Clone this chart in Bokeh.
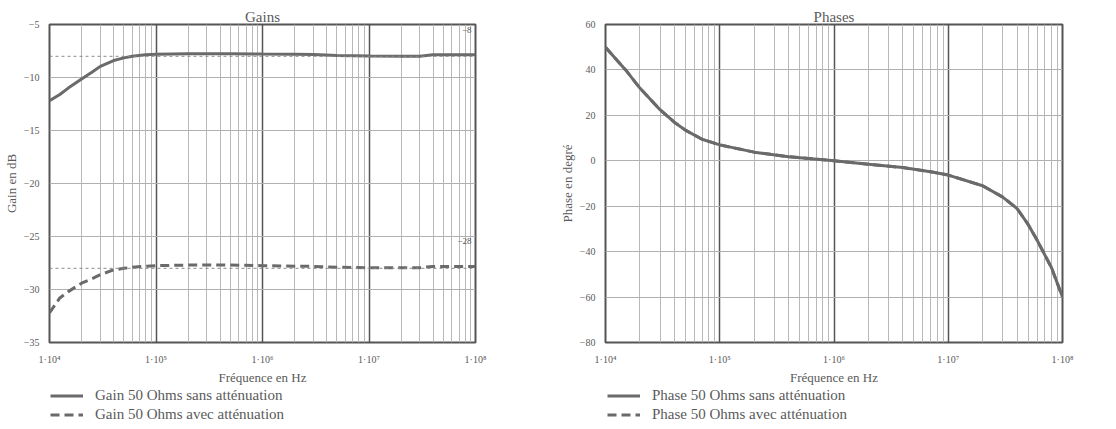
from bokeh.plotting import figure
from bokeh.layouts import row, column
from bokeh.models import Range1d, FixedTicker, Legend, LegendItem, Label, Span
from bokeh.embed import file_html
from bokeh.resources import INLINE

# ---------------- data ----------------
freq_gain = [1e4, 1.25e4, 1.5e4, 2e4, 2.5e4, 3e4, 4e4, 5e4, 6e4, 8e4, 1e5, 2e5, 5e5,
             1e6, 2e6, 3e6, 5e6, 1e7, 2e7, 3e7, 4e7, 1e8]
gain_sans = [-12.2, -11.6, -11.0, -10.15, -9.5, -8.95, -8.4, -8.15, -8.0, -7.85, -7.8, -7.75, -7.75,
             -7.78, -7.8, -7.82, -7.92, -7.98, -8.0, -8.0, -7.85, -7.85]
gain_avec = [-32.2, -30.8, -30.2, -29.4, -29.0, -28.6, -28.15, -28.0, -27.9, -27.8, -27.75, -27.7, -27.7,
             -27.75, -27.8, -27.82, -27.9, -27.95, -27.95, -27.95, -27.82, -27.82]

freq_phase = [1e4, 1.5e4, 2e4, 3e4, 4e4, 5e4, 7e4, 1e5, 2e5, 4e5, 1e6, 2e6, 4e6, 7e6,
              1e7, 2e7, 3e7, 4e7, 5e7, 6e7, 8e7, 1e8]
phase_sans = [50, 40, 32, 22.5, 17, 13.5, 9.5, 7, 3.8, 1.8, 0, -1.5, -3, -4.8,
              -6.3, -11, -16, -21, -28, -35, -47, -60]
phase_avec = [50, 40, 32, 22.5, 17, 13.5, 9.5, 7, 3.8, 1.8, 0, -1.5, -3, -4.8,
              -6.3, -11, -16, -21, -28, -35, -47, -60]

x_ticks = [1e4, 1e5, 1e6, 1e7, 1e8]
x_tick_labels = ["1·10⁴", "1·10⁵", "1·10⁶", "1·10⁷", "1·10⁸"]
gain_ticks = [-5, -10, -15, -20, -25, -30, -35]
gain_tick_labels = ["−5", "−10", "−15", "−20", "−25", "−30", "−35"]
phase_ticks = [60, 40, 20, 0, -20, -40, -60, -80]
phase_tick_labels = ["60", "40", "20", "0", "−20", "−40", "−60", "−80"]
gain_markers = [-8, -28]
gain_marker_labels = ["−8", "−28"]
gain_legend = ["Gain 50 Ohms sans atténuation", "Gain 50 Ohms avec atténuation"]
phase_legend = ["Phase 50 Ohms sans atténuation", "Phase 50 Ohms avec atténuation"]

FONT = "Liberation Serif"
TXT = "#5a5a5a"
LINE = "#6a6a6a"
DASH = "9 5"
minor_x = [m * d for d in [1e4, 1e5, 1e6, 1e7] for m in range(2, 10)]


def make_fig(title, ylabel, yr, yticks, ylabels, fw, bl, br):
    p = figure(x_axis_type="log", x_range=Range1d(1e4, 1e8), y_range=Range1d(*yr),
               frame_width=fw, frame_height=318, min_border_left=bl, min_border_right=br,
               min_border_top=24, min_border_bottom=36,
               output_backend="svg", toolbar_location=None, title=title)
    p.title.align = "center"
    p.title.text_font = FONT
    p.title.text_font_style = "normal"
    p.title.text_font_size = "15px"
    p.title.text_color = TXT
    p.title.standoff = 0
    p.outline_line_color = "#555555"
    p.outline_line_width = 2
    p.background_fill_color = "white"
    p.border_fill_color = "white"

    p.xaxis.ticker = FixedTicker(ticks=x_ticks, minor_ticks=minor_x)
    p.xaxis.major_label_overrides = {t: l for t, l in zip(x_ticks, x_tick_labels)}
    p.yaxis.ticker = FixedTicker(ticks=yticks)
    p.yaxis.major_label_overrides = {t: l for t, l in zip(yticks, ylabels)}
    for ax in (p.xaxis, p.yaxis):
        ax.axis_line_color = None
        ax.major_tick_line_color = None
        ax.minor_tick_line_color = None
        ax.major_label_text_font = FONT
        ax.major_label_text_font_size = "10px"
        ax.major_label_text_color = TXT
        ax.axis_label_text_font = FONT
        ax.axis_label_text_font_style = "normal"
        ax.axis_label_text_font_size = "13px"
        ax.axis_label_text_color = TXT
        ax.major_label_standoff = 4
        ax.axis_label_standoff = 2
    p.xaxis.major_label_standoff = 5
    p.xaxis.axis_label = "Fréquence en Hz"
    p.yaxis.axis_label = ylabel

    p.xgrid.grid_line_color = "#555555"
    p.xgrid.grid_line_width = 1.5
    p.xgrid.minor_grid_line_color = "#b8b8b8"
    p.xgrid.minor_grid_line_width = 1
    p.ygrid.grid_line_color = "#b0b0b0"
    p.ygrid.grid_line_width = 1
    return p


def legend_fig(labels, left, xs, ys1, ys2):
    # legend-only strip: the swatch renderers reuse the series, kept outside the visible range
    lf = figure(width=550, height=35, min_border_left=left, min_border_right=0,
                min_border_top=0, min_border_bottom=0,
                x_range=Range1d(0, 1), y_range=Range1d(0, 1),
                x_axis_location=None, y_axis_location=None,
                output_backend="svg", toolbar_location=None)
    lf.outline_line_color = None
    lf.xgrid.visible = False
    lf.ygrid.visible = False
    lf.border_fill_color = "white"
    s = lf.line(xs, ys1, line_color=LINE, line_width=3)
    d = lf.line(xs, ys2, line_color=LINE, line_width=3, line_dash=DASH)
    leg = Legend(items=[LegendItem(label=labels[0], renderers=[s]),
                        LegendItem(label=labels[1], renderers=[d])],
                 location="top_left", orientation="vertical",
                 label_text_font=FONT, label_text_font_size="15px", label_text_color=TXT,
                 label_text_baseline="middle",
                 glyph_width=33, glyph_height=15, label_height=15, spacing=2,
                 label_standoff=12, padding=0, margin=0,
                 border_line_color=None, background_fill_alpha=0)
    lf.add_layout(leg, "center")
    return lf


# ---------------- Gains ----------------
p1 = make_fig("Gains", "Gain en dB", (-35, -5), gain_ticks, gain_tick_labels, 426, 45, 79)
for mv in gain_markers:
    p1.add_layout(Span(location=mv, dimension="width", line_color="#8a8a8a",
                       line_width=1, line_dash="3 3"))
p1.line(freq_gain, gain_avec, line_color=LINE, line_width=3, line_dash=DASH)
p1.line(freq_gain, gain_sans, line_color=LINE, line_width=3)
p1.add_layout(Label(x=1e8, y=-5.5, text=gain_marker_labels[0], x_offset=-4,
                    text_align="right", text_baseline="middle", text_font=FONT,
                    text_font_size="9px", text_color="#555555"))
p1.add_layout(Label(x=1e8, y=-25.4, text=gain_marker_labels[1], x_offset=-4,
                    text_align="right", text_baseline="middle", text_font=FONT,
                    text_font_size="9px", text_color="#555555"))

# ---------------- Phases ----------------
p2 = make_fig("Phases", "Phase en degré", (-80, 60), phase_ticks, phase_tick_labels, 457, 51, 42)
p2.line(freq_phase, phase_avec, line_color=LINE, line_width=3, line_dash=DASH)
p2.line(freq_phase, phase_sans, line_color=LINE, line_width=3)

l1 = legend_fig(gain_legend, 50, freq_gain, gain_sans, gain_avec)
l2 = legend_fig(phase_legend, 57, freq_phase, phase_sans, phase_avec)

layout = column(row(p1, p2, spacing=0), row(l1, l2, spacing=0), spacing=0)
open("out.html", "w").write(file_html(layout, INLINE))
